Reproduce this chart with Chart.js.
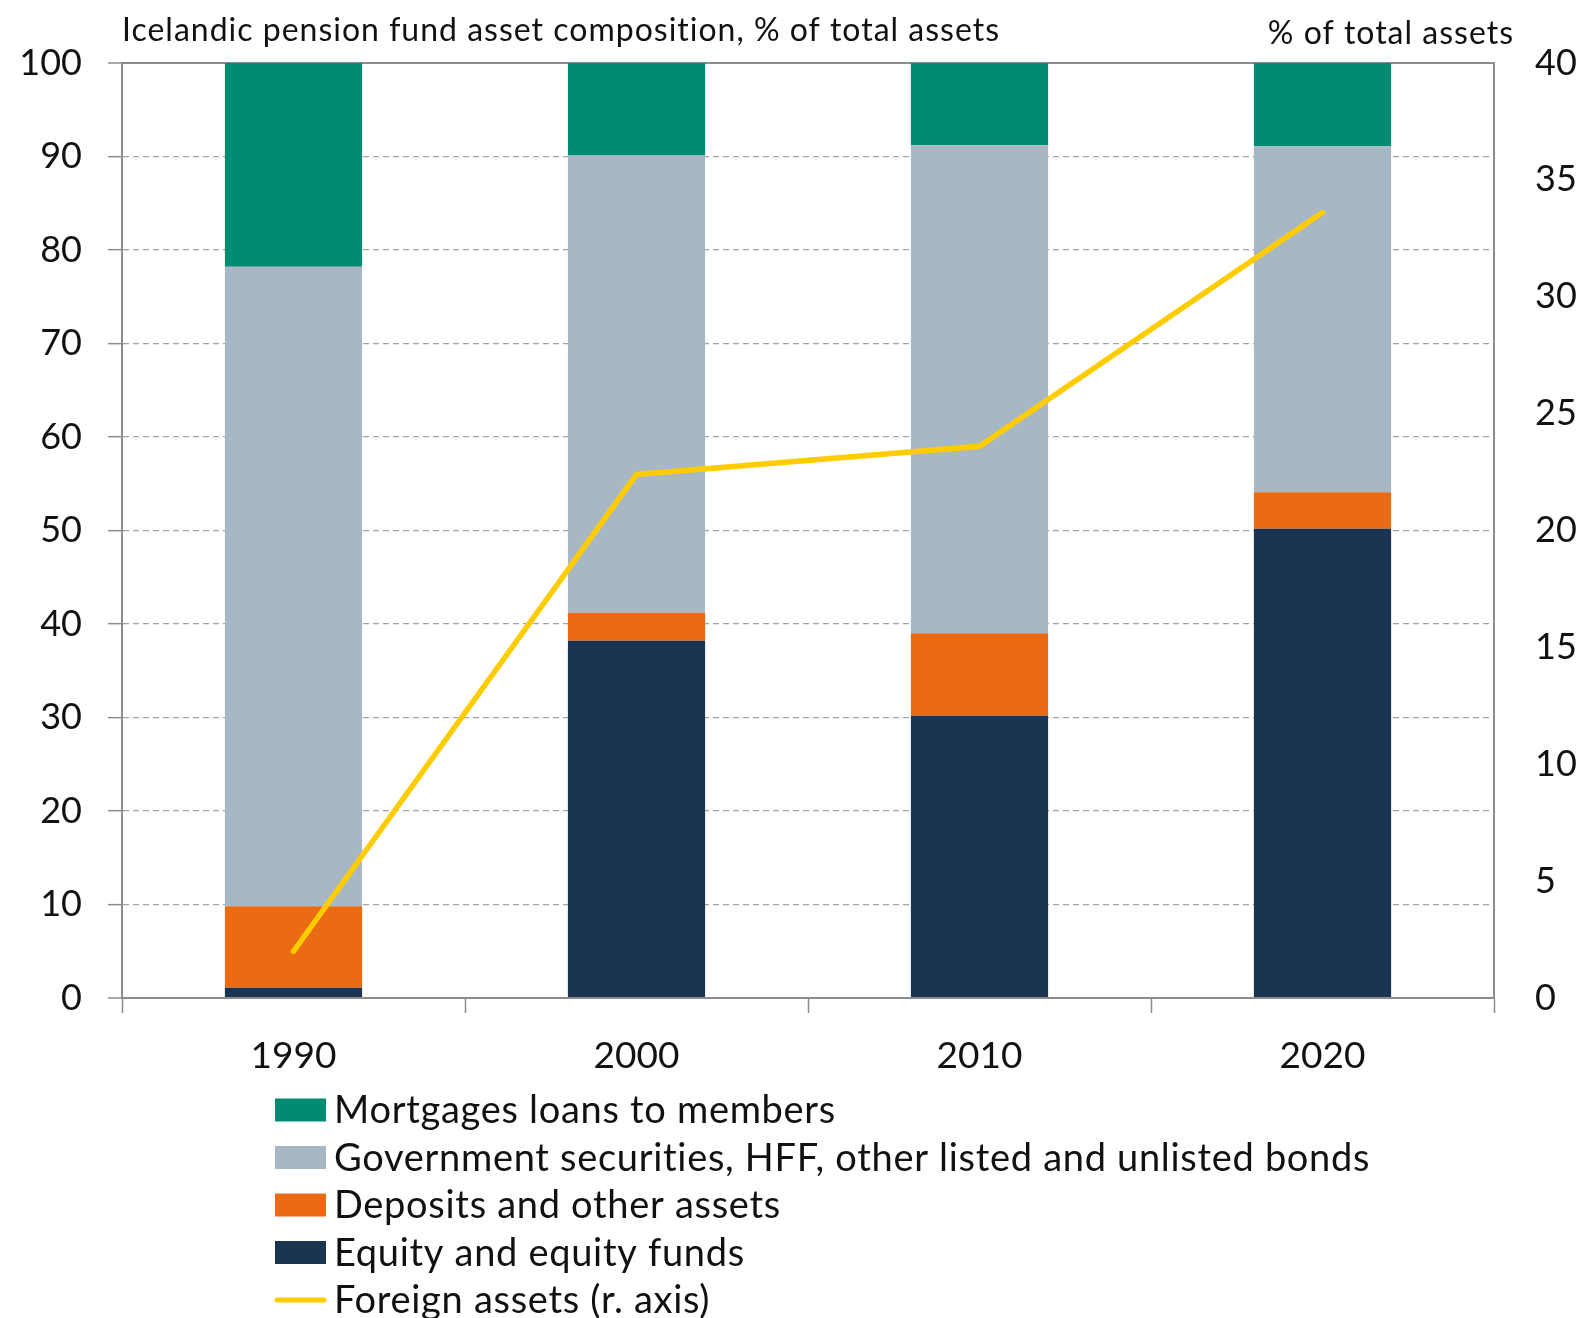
<!DOCTYPE html>
<html>
<head>
<meta charset="utf-8">
<script src="https://cdn.jsdelivr.net/npm/chart.js@4.4.0/dist/chart.umd.min.js"></script>
<style>
  html, body { margin: 0; padding: 0; background: #fff; }
  #wrap { width: 1586px; height: 1318px; }
</style>
</head>
<body>
<div id="wrap"><canvas id="pensionChart" width="1586" height="1318"></canvas></div>
<script>
// asset composition, % of total assets
var years = ['1990', '2000', '2010', '2020'];
var equity = [1.1, 38.2, 30.2, 50.2];
var deposits = [8.7, 3.0, 8.8, 3.9];
var govBonds = [68.4, 48.9, 52.2, 37.0];
var mortgages = [21.8, 9.9, 8.8, 8.9];
// foreign assets, right axis
var foreign = [2.0, 22.4, 23.6, 33.6];

var leftTicks = { min: 0, max: 100, step: 10 };
var rightTicks = { min: 0, max: 40, step: 5 };

var FONT = 'Lato';
var axisGrey = '#8c8c8c';

// headers above the plot and the stacked legend below it
var extras = {
  id: 'extras',
  afterDraw: function(chart) {
    var ctx = chart.ctx;
    var area = chart.chartArea;
    ctx.save();
    ctx.fillStyle = '#111';
    ctx.textBaseline = 'middle';
    ctx.font = '32px ' + FONT;
    ctx.letterSpacing = '1px';
    ctx.textAlign = 'left';
    ctx.fillText('Icelandic pension fund asset composition, % of total assets', area.left, 31);
    ctx.textAlign = 'right';
    ctx.fillText('% of total assets', 1514, 34);

    var order = [3, 2, 1, 0, 4];
    ctx.textAlign = 'left';
    ctx.font = '38px ' + FONT;
    ctx.letterSpacing = '0.7px';
    order.forEach(function(di, row) {
      var ds = chart.data.datasets[di];
      var y = 1110 + row * 47.5;
      if (ds.type === 'line') {
        ctx.strokeStyle = ds.borderColor;
        ctx.lineWidth = 5;
        ctx.lineCap = 'round';
        ctx.beginPath();
        ctx.moveTo(277, y);
        ctx.lineTo(324, y);
        ctx.stroke();
      } else {
        ctx.fillStyle = ds.backgroundColor;
        ctx.fillRect(275, y - 11.5, 51, 23);
      }
      ctx.fillStyle = '#111';
      ctx.fillText(ds.label, 334, y + 1);
    });
    ctx.restore();
  }
};

var ctxP = document.getElementById('pensionChart').getContext('2d');
var pensionChart = new Chart(ctxP, {
  type: 'bar',
  data: {
    labels: years,
    datasets: [
      { label: 'Equity and equity funds', data: equity, backgroundColor: '#1a3552', order: 1 },
      { label: 'Deposits and other assets', data: deposits, backgroundColor: '#eb6a14', order: 1 },
      { label: 'Government securities, HFF, other listed and unlisted bonds', data: govBonds, backgroundColor: '#a7b8c4', order: 1 },
      { label: 'Mortgages loans to members', data: mortgages, backgroundColor: '#008c72', order: 1 },
      {
        type: 'line',
        label: 'Foreign assets (r. axis)',
        data: foreign,
        yAxisID: 'y1',
        borderColor: '#ffcc00',
        borderWidth: 5.5,
        borderCapStyle: 'round',
        pointRadius: 0,
        tension: 0,
        order: 0
      }
    ]
  },
  options: {
    responsive: false,
    maintainAspectRatio: false,
    animation: false,
    barPercentage: 0.4,
    categoryPercentage: 1,
    layout: { padding: { top: 63, bottom: 220, left: 0, right: 0 } },
    plugins: {
      legend: { display: false },
      tooltip: { enabled: false }
    },
    scales: {
      x: {
        stacked: true,
        afterFit: function(s) { s.height = 100; },
        grid: {
          offset: true,
          drawOnChartArea: false,
          tickLength: 15,
          tickColor: axisGrey,
          tickWidth: 1.5
        },
        border: { color: axisGrey, width: 2 },
        ticks: { color: '#111', font: { family: FONT, size: 37 }, padding: 21 }
      },
      y: {
        stacked: true,
        min: leftTicks.min,
        max: leftTicks.max,
        afterFit: function(s) { s.width = 122; },
        grid: {
          color: function(c) { return (c.tick && (c.tick.value === 0 || c.tick.value === 100)) ? axisGrey : '#a3a3a3'; },
          lineWidth: function(c) { return (c.tick && (c.tick.value === 0 || c.tick.value === 100)) ? 2 : 1.3; },
          tickLength: 14,
          tickColor: axisGrey,
          tickWidth: 1.5,
          tickBorderDash: []
        },
        border: {
          color: axisGrey,
          width: 2,
          dash: function(c) { return (c.tick && (c.tick.value === 0 || c.tick.value === 100)) ? [] : [6, 4]; }
        },
        ticks: { stepSize: leftTicks.step, color: '#111', font: { family: FONT, size: 36 }, padding: 26 }
      },
      y1: {
        position: 'right',
        min: rightTicks.min,
        max: rightTicks.max,
        afterFit: function(s) { s.width = 92; },
        grid: { drawOnChartArea: false, drawTicks: false },
        border: { color: axisGrey, width: 2 },
        ticks: { stepSize: rightTicks.step, color: '#111', font: { family: FONT, size: 36 }, padding: 41 }
      }
    }
  },
  plugins: [extras]
});
</script>
</body>
</html>
